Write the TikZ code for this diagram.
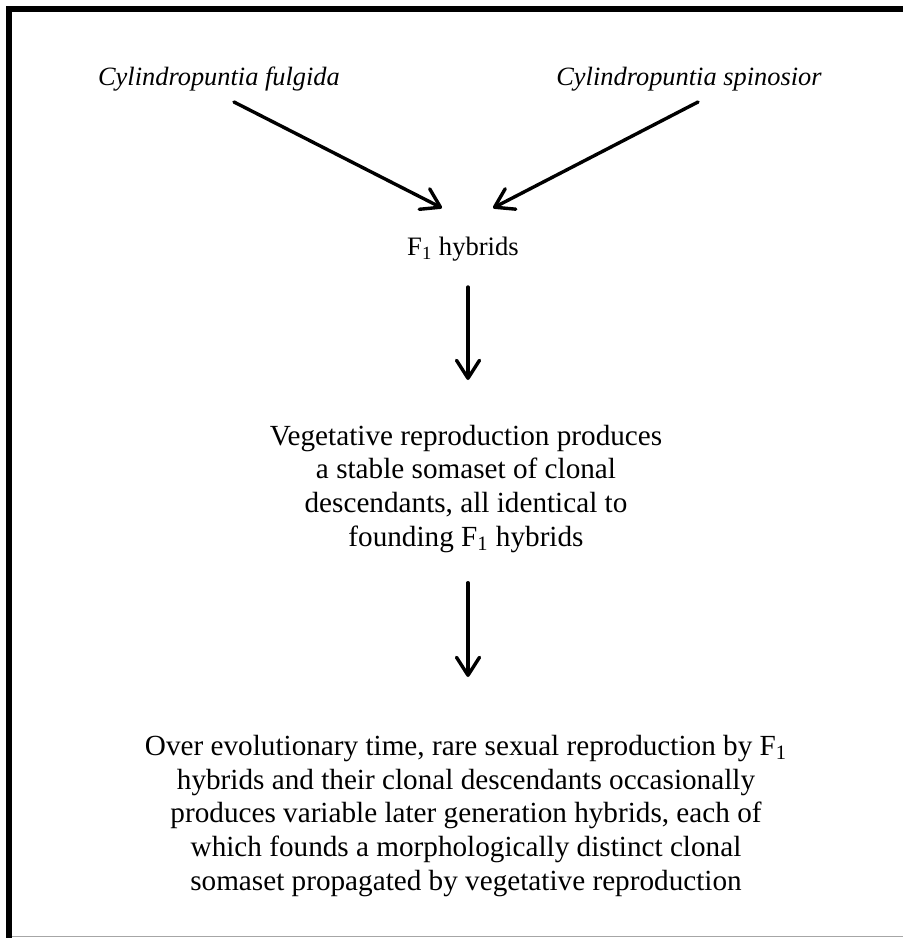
\documentclass[tikz,border=0pt]{standalone}
\usepackage{fontspec}
\setmainfont{Liberation Serif}
\usetikzlibrary{arrows.meta}

\tikzset{
  body/.style={inner sep=0pt, align=center, font=\fontsize{14.6}{16.8}\selectfont},
  species/.style={inner sep=0pt, font=\fontsize{13.2}{15.6}\selectfont\itshape},
  flow/.style={line width=1.7pt, line cap=round,
    -{Straight Barb[length=9pt,width=11.5pt,round]}},
}

\begin{document}
\begin{tikzpicture}[x=0.5pt, y=-0.5pt]
        \useasboundingbox (0,0) rectangle (902,938);
        % frame
        \draw[line width=3pt] (9,945) -- (9,9) -- (910,9);
        \draw[black!35, line width=0.7pt] (12,936.5) -- (910,936.5);
        % parents
        \node[species, anchor=base] (fulgida) at (219,85) {Cylindropuntia fulgida};
        \node[species, anchor=base] (spinosior) at (689,85) {Cylindropuntia spinosior};
        \node[inner sep=0pt, font=\fontsize{13.3}{16}\selectfont, anchor=base] (f1) at (463,255) {F\textsubscript{1} hybrids};
        % steps (base = last line)
        \node[body, anchor=base] (clones) at (466,546) {Vegetative reproduction produces\\
          a stable somaset of clonal\\ descendants, all identical to\\ founding F\textsubscript{1} hybrids};
        \node[body, anchor=base] (later) at (466,890) {Over evolutionary time, rare sexual reproduction by F\textsubscript{1}\\
          hybrids and their clonal descendants occasionally\\ produces variable later generation hybrids, each of\\
          which founds a morphologically distinct clonal\\ somaset propagated by vegetative reproduction};
        \draw[flow] ([shift={(15,17)}]fulgida.base) -- ([shift={(-21,-47)}]f1.base);
        \draw[flow] ([shift={(9,17)}]spinosior.base) -- ([shift={(30,-47)}]f1.base);
        \draw[flow] ([shift={(5,32)}]f1.base) -- ([shift={(2,-166)}]clones.base);
        \draw[flow] ([shift={(2,30)}]clones.south) -- ([shift={(2,-213)}]later.base);
      \end{tikzpicture}
\end{document}
